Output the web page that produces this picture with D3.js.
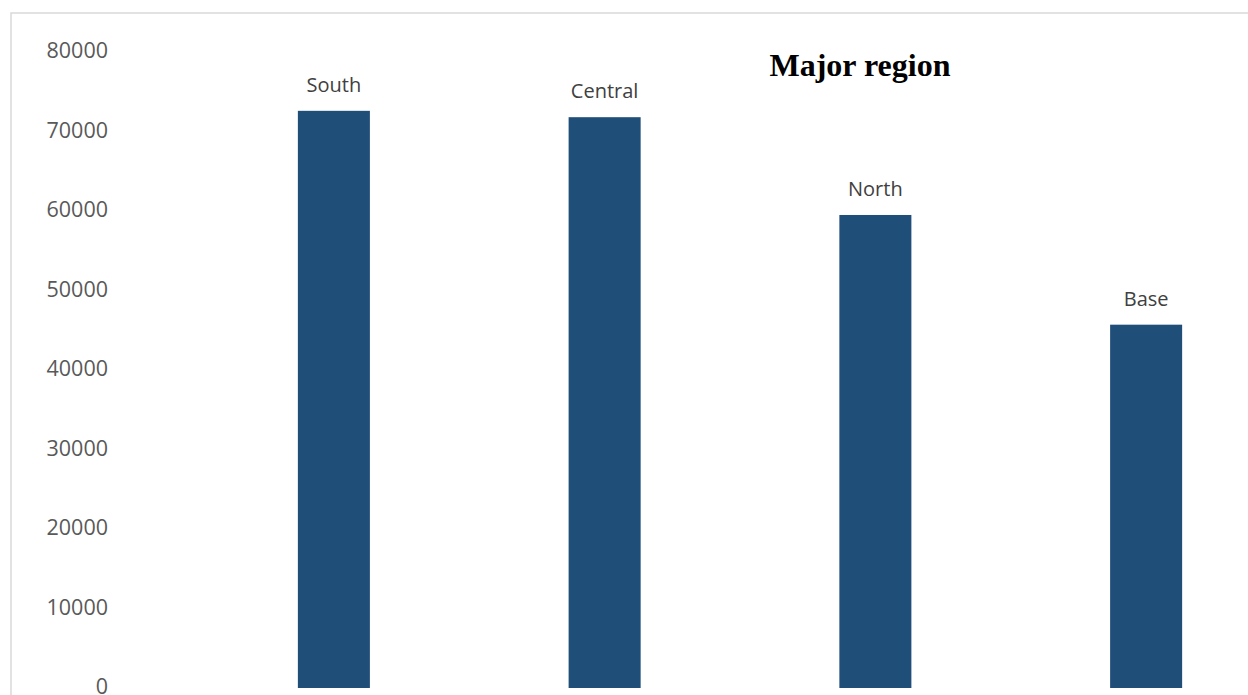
<!DOCTYPE html>
<html><head><meta charset="utf-8">
<script src="https://cdn.jsdelivr.net/npm/d3@7"></script>
<style>body{margin:0;background:#fff;overflow:hidden}svg{display:block}</style>
</head><body>
<script>
const categories = ["South", "Central", "North", "Base"];
const values = [72600, 71800, 59500, 45700];
const yTicks = [0, 10000, 20000, 30000, 40000, 50000, 60000, 70000, 80000];
const title = "Major region";

const W = 1248, H = 695;
const svg = d3.select("body").append("svg").attr("width", W).attr("height", H);

svg.append("rect").attr("x", 11).attr("y", 13).attr("width", W + 20).attr("height", H + 20)
  .attr("fill", "#fff").attr("stroke", "#d9d9d9").attr("stroke-width", 1.5);

const x = d3.scaleBand().domain(categories).range([198.5, 1281.5]).paddingInner(0.734).paddingOuter(0.367);
const y = d3.scaleLinear().domain([0, 80000]).range([688, 52]);

const yAxis = d3.axisLeft(y).tickValues(yTicks).tickSize(0).tickPadding(0).tickFormat(d3.format("d"));
const ga = svg.append("g").attr("transform", "translate(108,-1)").call(yAxis);
ga.select(".domain").remove();
ga.selectAll("text").attr("font-family", "'Open Sans', sans-serif").attr("font-size", 21.5).attr("fill", "#595959");

svg.selectAll("rect.bar").data(categories).enter().append("rect").attr("class", "bar")
  .attr("x", d => x(d)).attr("width", x.bandwidth())
  .attr("y", (d, i) => y(values[i])).attr("height", (d, i) => y(0) - y(values[i]))
  .attr("fill", "#1f4e79");

svg.selectAll("text.lbl").data(categories).enter().append("text").attr("class", "lbl")
  .attr("x", d => x(d) + x.bandwidth() / 2)
  .attr("y", (d, i) => y(values[i]) - 19)
  .attr("text-anchor", "middle")
  .attr("font-family", "'Open Sans', sans-serif").attr("font-size", 20).attr("fill", "#404040")
  .text(d => d);

svg.append("text").attr("x", 860).attr("y", 76).attr("text-anchor", "middle")
  .attr("font-family", "'Liberation Serif', 'Times New Roman', serif").attr("font-weight", "bold")
  .attr("font-size", 32).attr("fill", "#000").text(title);
</script>
</body></html>
